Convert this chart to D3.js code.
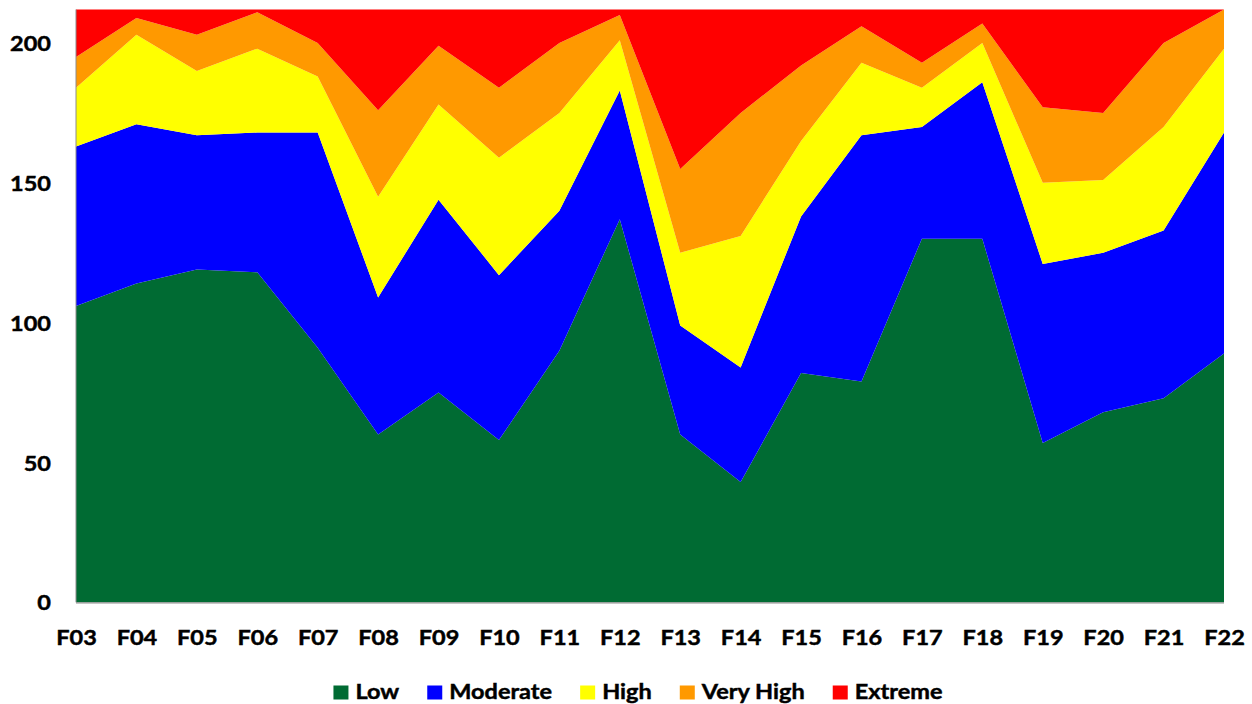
<!DOCTYPE html>
<html>
<head>
<meta charset="utf-8">
<script src="https://cdn.jsdelivr.net/npm/d3@7"></script>
<style>
  html, body { margin: 0; padding: 0; background: #fff; }
  svg { display: block; }
  text { font-family: Lato, "Open Sans", sans-serif; font-weight: 700; fill: #000; stroke: #000; stroke-width: 0.45px; }
</style>
</head>
<body>
<svg id="chart" width="1252" height="704"></svg>
<script>
// Fire seasons
const categories = ["F03","F04","F05","F06","F07","F08","F09","F10","F11","F12",
                    "F13","F14","F15","F16","F17","F18","F19","F20","F21","F22"];

// Days per fire danger rating, each season
const low      = [106,114,119,118, 91, 60, 75, 58, 90,137, 60, 43, 82, 79,130,130, 57, 68, 73, 89];
const moderate = [ 57, 57, 48, 50, 77, 49, 69, 59, 50, 46, 39, 41, 56, 88, 40, 56, 64, 57, 60, 79];
const high     = [ 21, 32, 23, 30, 20, 36, 34, 42, 35, 18, 26, 47, 27, 26, 14, 14, 29, 26, 37, 30];
const veryHigh = [ 11,  6, 13, 13, 12, 31, 21, 25, 25,  9, 30, 44, 27, 13,  9,  7, 27, 24, 30, 14];
const extreme  = [ 17,  3,  9,  1, 12, 36, 13, 28, 12,  2, 57, 37, 20,  6, 19,  5, 35, 37, 12,  0];

const seriesNames  = ["Low","Moderate","High","Very High","Extreme"];
const seriesColors = ["#006B33","#0000FF","#FFFF00","#FF9900","#FF0000"];
const yTicks = [0, 50, 100, 150, 200];
const yMax = 212;

const seriesValues = [low, moderate, high, veryHigh, extreme];
const rows = categories.map((c, i) => {
  const r = { cat: c };
  seriesNames.forEach((s, k) => { r[s] = seriesValues[k][i]; });
  return r;
});

const svg = d3.select("#chart");
const plot = { left: 76, right: 1224, top: 9.5, bottom: 602.3 };
const fontSize = 21;
const stretch = 1.12;

const x = d3.scalePoint().domain(categories).range([plot.left, plot.right]);
const y = d3.scaleLinear().domain([0, yMax]).range([plot.bottom, plot.top]);

const stacked = d3.stack().keys(seriesNames)(rows);
const area = d3.area()
  .x(d => x(d.data.cat))
  .y0(d => y(d[0]))
  .y1(d => y(d[1]));

svg.append("g").selectAll("path")
  .data(stacked)
  .join("path")
  .attr("d", area)
  .attr("fill", (d, i) => seriesColors[i]);

// Axis lines
svg.append("line")
  .attr("x1", plot.left).attr("x2", plot.left)
  .attr("y1", plot.top).attr("y2", plot.bottom)
  .attr("stroke", "#8c8c8c").attr("stroke-width", 1);
svg.append("line")
  .attr("x1", plot.left).attr("x2", plot.right)
  .attr("y1", plot.bottom + 0.5).attr("y2", plot.bottom + 0.5)
  .attr("stroke", "#8c8c8c").attr("stroke-width", 1.2);

// Y tick labels
const yAxis = d3.axisLeft(y).tickValues(yTicks).tickSize(0).tickPadding(0);
const gy = svg.append("g").attr("transform", `translate(${plot.left},0)`).call(yAxis);
gy.select(".domain").remove();
gy.selectAll(".tick text")
  .attr("x", 0).attr("dy", "0.36em")
  .attr("font-size", fontSize)
  .attr("text-anchor", "end")
  .attr("transform", `translate(-25,0) scale(${stretch},1)`);

// X tick labels
const xAxis = d3.axisBottom(x).tickSize(0).tickPadding(0);
const gx = svg.append("g").attr("transform", `translate(0,${plot.bottom})`).call(xAxis);
gx.select(".domain").remove();
gx.selectAll(".tick text")
  .attr("y", 0).attr("dy", 0)
  .attr("font-size", fontSize)
  .attr("transform", `translate(0,43) scale(${stretch},1)`);

// Legend
const legend = svg.append("g");
const sq = 15, gapText = 7, gapItem = 28;
const items = legend.selectAll("g").data(seriesNames).join("g");
items.append("rect")
  .attr("width", sq).attr("height", sq - 1)
  .attr("y", 685.5)
  .attr("fill", (d, i) => seriesColors[i]);
items.append("text")
  .attr("font-size", fontSize)
  .attr("y", 0)
  .text(d => d);

let widths = [];
items.select("text").each(function() { widths.push(this.getComputedTextLength() * stretch); });
const total = widths.reduce((a, w) => a + sq + gapText + w, 0) + gapItem * (widths.length - 1);
let cx = 638 - total / 2;
items.each(function(d, i) {
  const g = d3.select(this);
  g.select("rect").attr("x", cx);
  g.select("text").attr("transform", `translate(${cx + sq + gapText},699.2) scale(${stretch},1)`);
  cx += sq + gapText + widths[i] + gapItem;
});
</script>
</body>
</html>
